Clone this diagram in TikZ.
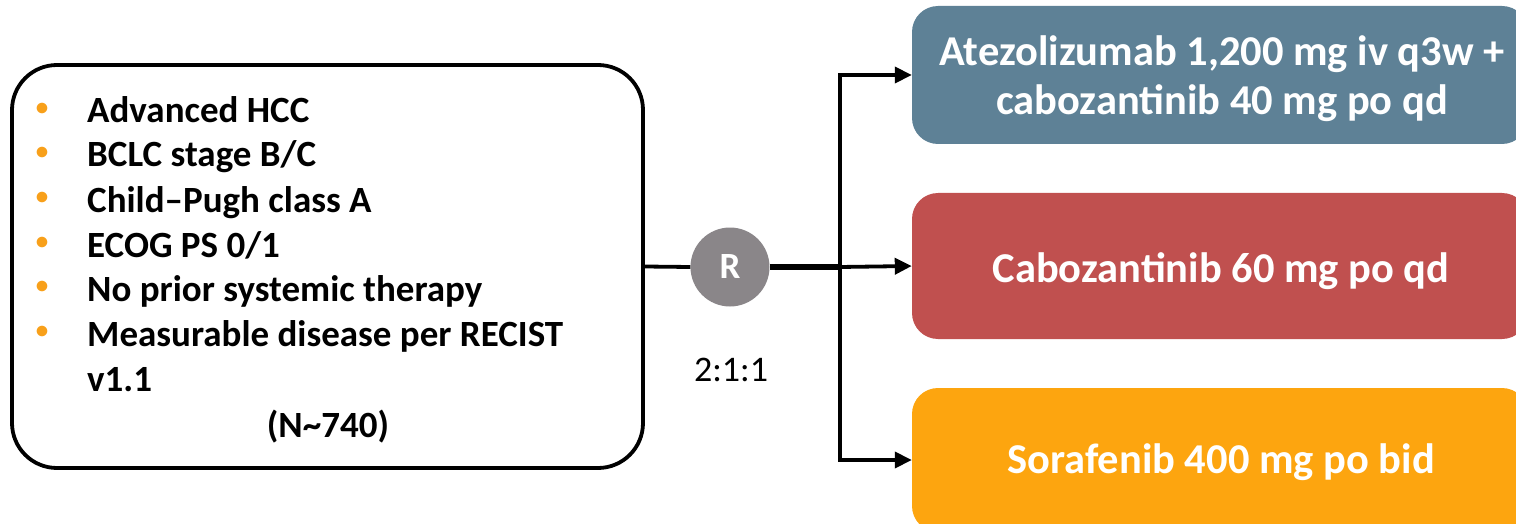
\documentclass[tikz,border=0pt]{standalone}
\usepackage{fontspec}
\setmainfont{Carlito}
\usetikzlibrary{arrows.meta}
\definecolor{armA}{HTML}{5E8196}
\definecolor{armB}{HTML}{C0504F}
\definecolor{armC}{HTML}{FDA50F}
\definecolor{bulletc}{HTML}{F8A01A}
\definecolor{rgrey}{HTML}{8A8689}
\tikzset{
  armbox/.style={rectangle, rounded corners=26pt, minimum width=616pt, inner sep=0pt},
  crit/.style={anchor=base west, inner sep=0pt, font=\fontsize{37}{44}\selectfont\bfseries},
  bul/.style={anchor=center, inner sep=0pt, text=bulletc, font=\fontsize{25}{30}\selectfont\bfseries},
  armtxt/.style={anchor=base, inner sep=0pt, text=white, font=\fontsize{42.5}{50}\selectfont\bfseries},
  conn/.style={line width=3.8pt},
  arr/.style={line width=3.8pt, -{Triangle[length=17pt,width=16pt]}}
}
\begin{document}
\begin{tikzpicture}[x=1pt,y=-1pt]
\useasboundingbox (0,0) rectangle (1516,524);
\clip (0,0) rectangle (1516,524);

% criteria box
\node[draw, line width=3.8pt, rounded corners=45pt, minimum width=631pt, minimum height=403pt, inner sep=0pt] (critbox) at (327.5,266.5) {};
\node[bul] (b1) at (42,109.5) {•};
\node[bul] (b2) at (42,153.5) {•};
\node[bul] (b3) at (42,198.5) {•};
\node[bul] (b4) at (42,243.5) {•};
\node[bul] (b5) at (42,287.5) {•};
\node[bul] (b6) at (42,332.5) {•};
\node[crit] (c1) at (87,123) {Advanced HCC};
\node[crit] (c2) at (87,167) {BCLC stage B/C};
\node[crit] (c3) at (87,212) {Child–Pugh class A};
\node[crit] (c4) at (87,257) {ECOG PS 0/1};
\node[crit] (c5) at (87,301) {No prior systemic therapy};
\node[crit] (c6) at (87,346) {Measurable disease per RECIST};
\node[crit] (c7) at (87,391) {v1.1};
\node[crit, anchor=base] (nn) at (328,437) {(N\textasciitilde 740)};

% randomisation
\node[circle, fill=rgrey, minimum size=79pt, inner sep=0pt, text=white, font=\fontsize{37}{44}\selectfont\bfseries] (R) at (730,267) {R};
\node[anchor=base, inner sep=0pt, font=\fontsize{36}{43}\selectfont] (ratio) at (731,381) {2:1:1};

% arms
\node[armbox, fill=armA, minimum height=138pt] (armA) at (1220,75) {};
\node[armbox, fill=armB, minimum height=146pt] (armB) at (1220,266) {};
\node[armbox, fill=armC, minimum height=144pt] (armC) at (1220,460) {};
\node[armtxt] (tA1) at (1222,66) {Atezolizumab 1,200 mg iv q3w +};
\node[armtxt] (tA2) at (1222,115) {cabozantinib 40 mg po qd};
\node[armtxt] (tB) at (1221,282) {Cabozantinib 60 mg po qd};
\node[armtxt] (tC) at (1221,473) {Sorafenib 400 mg po bid};

% connectors
\coordinate (branch) at (840,267);
\draw[conn] (critbox.east) -- (R.west);
\draw[line width=5.8pt] (R.east) -- (branch);
\draw[arr] (branch) -- (armB.west);
\draw[arr] (branch) |- (armA.west);
\draw[arr] (branch) |- (armC.west);
\end{tikzpicture}
\end{document}
